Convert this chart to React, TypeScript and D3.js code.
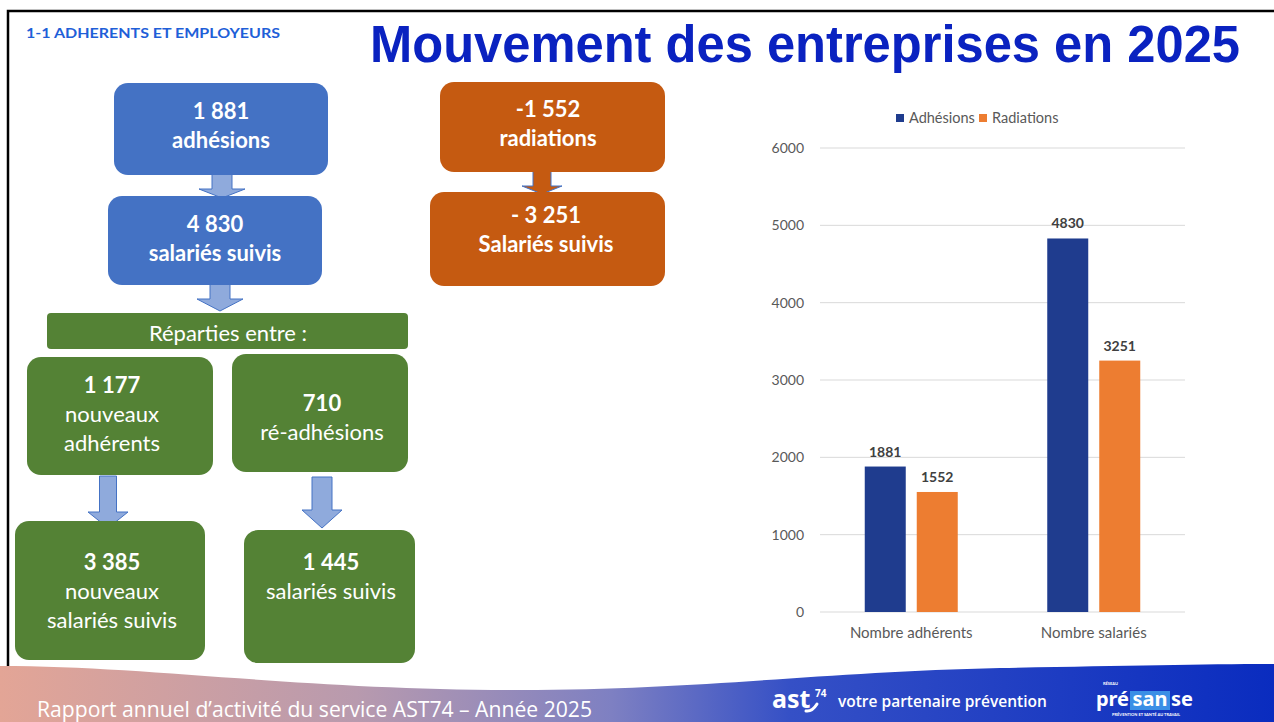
import * as d3 from 'd3'

// chart data
const categories = ['Nombre adhérents', 'Nombre salariés']
const seriesNames = ['Adhésions', 'Radiations']
const adhesions = [1881, 4830]
const radiations = [1552, 3251]
const yTicks = [0, 1000, 2000, 3000, 4000, 5000, 6000]

// flowchart texts
const blueTexts = [['1 881', 'adhésions'], ['4 830', 'salariés suivis']]
const orangeTexts = [['-1 552', 'radiations'], ['- 3 251', 'Salariés suivis']]
const splitLabel = 'Réparties entre :'
const greenTexts = [
  ['1 177', 'nouveaux', 'adhérents'],
  ['710', 'ré-adhésions'],
  ['3 385', 'nouveaux', 'salariés suivis'],
  ['1 445', 'salariés suivis'],
]

const BLUE = '#4472C4'
const ORANGE = '#C55A11'
const GREEN = '#548235'
const ARROW = '#8FAADC'
const FONT = 'Lato, "Open Sans", sans-serif'

const W = 1274
const H = 722

// box geometry (x, y, w, h) and text anchor
const blueBoxes = [
  { x: 114, y: 83, w: 214, h: 92, cx: 221, ty: 119 },
  { x: 108, y: 196, w: 214, h: 89, cx: 215, ty: 232 },
]
const orangeBoxes = [
  { x: 440, y: 82, w: 225, h: 90, cx: 548, ty: 117 },
  { x: 430, y: 192, w: 235, h: 94, cx: 546, ty: 223 },
]
const greenBoxes = [
  { x: 27, y: 357, w: 186, h: 118, cx: 112, ty: 393 },
  { x: 232, y: 354, w: 176, h: 118, cx: 322, ty: 411 },
  { x: 15, y: 521, w: 190, h: 139, cx: 112, ty: 570 },
  { x: 244, y: 530, w: 171, h: 133, cx: 331, ty: 570 },
]

const arrowPath = (cx: number, top: number, bottom: number, shaftW: number, headW: number, headH: number) => {
  const s = shaftW / 2
  const h = headW / 2
  const hy = bottom - headH
  return `M${cx - s},${top} L${cx + s},${top} L${cx + s},${hy} L${cx + h},${hy} L${cx},${bottom} L${cx - h},${hy} L${cx - s},${hy} Z`
}

const Box = ({ b, fill, lines, boldFirst, allBold }: any) => (
  <g>
    <rect x={b.x} y={b.y} width={b.w} height={b.h} rx={14} fill={fill} />
    {lines.map((t: string, i: number) => (
      <text
        key={i}
        x={b.cx}
        y={b.ty + i * 29}
        textAnchor="middle"
        fill="#fff"
        fontSize={22}
        fontWeight={allBold || (boldFirst && i === 0) ? 700 : 400}
        fontFamily={FONT}
      >
        {t}
      </text>
    ))}
  </g>
)

const BarChart = () => {
  const x0 = d3.scaleBand<string>().domain(categories).range([820, 1185])
  const x1 = d3.scaleBand<string>().domain(seriesNames).range([0, 93]).paddingInner(11 / 52)
  const y = d3.scaleLinear().domain([0, 6000]).range([612, 148])
  const colors = d3.scaleOrdinal<string>().domain(seriesNames).range(['#1F3C8E', '#ED7D31'])
  const values = [adhesions, radiations]

  return (
    <g fontFamily={FONT}>
      {yTicks.map((t) => (
        <g key={t}>
          <line x1={820} x2={1185} y1={y(t)} y2={y(t)} stroke="#D9D9D9" strokeWidth={1} />
          <text x={804} y={y(t) + 5} textAnchor="end" fontSize={14} fill="#595959">
            {t}
          </text>
        </g>
      ))}
      {categories.map((c, ci) => {
        const gx = x0(c)! + x0.bandwidth() / 2 - 46.5
        return (
          <g key={c}>
            {seriesNames.map((s, si) => {
              const v = values[si][ci]
              const bx = gx + x1(s)!
              return (
                <g key={s}>
                  <rect x={bx} y={y(v)} width={x1.bandwidth()} height={y(0) - y(v)} fill={colors(s)} />
                  <text
                    x={bx + x1.bandwidth() / 2}
                    y={y(v) - 10}
                    textAnchor="middle"
                    fontSize={14}
                    fontWeight={700}
                    fill="#404040"
                  >
                    {v}
                  </text>
                </g>
              )
            })}
            <text x={x0(c)! + x0.bandwidth() / 2} y={638} textAnchor="middle" fontSize={15} fill="#595959">
              {c}
            </text>
          </g>
        )
      })}
      <g>
        <rect x={896} y={114} width={8} height={8} fill={colors(seriesNames[0])} />
        <text x={909} y={123} fontSize={14.5} fill="#595959">
          {seriesNames[0]}
        </text>
        <rect x={979} y={114} width={8} height={8} fill={colors(seriesNames[1])} />
        <text x={992} y={123} fontSize={14.5} fill="#595959">
          {seriesNames[1]}
        </text>
      </g>
    </g>
  )
}

const Footer = () => (
  <g>
    <defs>
      <linearGradient id="footGrad" x1="0" x2="1" y1="0" y2="0">
        <stop offset="0" stopColor="#E3A596" />
        <stop offset="0.28" stopColor="#B89AAE" />
        <stop offset="0.48" stopColor="#7E80C2" />
        <stop offset="0.62" stopColor="#3550C6" />
        <stop offset="1" stopColor="#0A2CBF" />
      </linearGradient>
    </defs>
    <path
      d="M0,666 C150,666 300,690 520,690 C700,690 820,672 1000,668 C1120,666 1200,664 1274,664 L1274,722 L0,722 Z"
      fill="url(#footGrad)"
    />
    <text
      x={37}
      y={717}
      fill="#fff"
      fontSize={21}
      fontFamily='"Open Sans", sans-serif'
      textLength={555}
      lengthAdjust="spacingAndGlyphs"
    >
      Rapport annuel d’activité du service AST74 – Année 2025
    </text>
    <text x={772} y={708} fill="#fff" fontSize={25} fontWeight={700} fontFamily='"Noto Sans", sans-serif'>
      ast
    </text>
    <text x={815} y={697} fill="#fff" fontSize={10} fontWeight={700} fontFamily='"Noto Sans", sans-serif'>
      74
    </text>
    <path d="M806,711 Q812,712 817,704" fill="none" stroke="#fff" strokeWidth={3} strokeLinecap="round" />
    <text x={838} y={707} fill="#fff" fontSize={15.5} fontWeight={600} fontFamily='"Open Sans", sans-serif'>
      votre partenaire prévention
    </text>
    <text x={1103} y={685} fill="#fff" fontSize={4} fontWeight={700} fontFamily={FONT}>
      RÉSEAU
    </text>
    <rect x={1130} y={691} width={40} height={19} fill="#3A8FE6" />
    <g fill="#fff" fontSize={20} fontWeight={700} fontFamily='"Noto Sans", sans-serif'>
      <text x={1129} y={706} textAnchor="end">
        pré
      </text>
      <text x={1150} y={706} textAnchor="middle">
        san
      </text>
      <text x={1171} y={706}>
        se
      </text>
    </g>
    <text x={1112} y={716} fill="#fff" fontSize={4} fontWeight={700} fontFamily={FONT}>
      PRÉVENTION ET SANTÉ AU TRAVAIL
    </text>
  </g>
)

export default function App() {
  return (
    <svg width={W} height={H} style={{ position: 'absolute', left: 0, top: 0, background: '#fff' }}>
      <rect x={0} y={0} width={W} height={H} fill="#fff" />
      <rect x={8} y={11} width={W + 20} height={H} fill="none" stroke="#000" strokeWidth={2.5} />

      <text
        x={26}
        y={38}
        fill="#1F5FD8"
        fontSize={14}
        fontWeight={700}
        fontFamily={FONT}
        textLength={254}
        lengthAdjust="spacingAndGlyphs"
      >
        1-1 ADHERENTS ET EMPLOYEURS
      </text>
      <text
        x={370}
        y={62}
        fill="#0A22C0"
        fontSize={51}
        fontWeight={700}
        fontFamily='"Liberation Sans", Arial, sans-serif'
        textLength={870}
        lengthAdjust="spacingAndGlyphs"
      >
        Mouvement des entreprises en 2025
      </text>

      {/* arrows */}
      <path d={arrowPath(222, 174, 198, 20, 46, 9)} fill={ARROW} stroke={BLUE} strokeWidth={1} />
      <path d={arrowPath(220, 284, 311, 20, 46, 12)} fill={ARROW} stroke={BLUE} strokeWidth={1} />
      <path d={arrowPath(542, 171, 194, 18, 40, 8)} fill={ORANGE} stroke={BLUE} strokeWidth={1} />
      <path d={arrowPath(108, 476, 528, 17, 40, 16)} fill={ARROW} stroke={BLUE} strokeWidth={1} />
      <path d={arrowPath(322, 477, 528, 20, 40, 18)} fill={ARROW} stroke={BLUE} strokeWidth={1} />

      {blueBoxes.map((b, i) => (
        <Box key={i} b={b} fill={BLUE} lines={blueTexts[i]} allBold />
      ))}
      {orangeBoxes.map((b, i) => (
        <Box key={i} b={b} fill={ORANGE} lines={orangeTexts[i]} allBold />
      ))}

      <rect x={47} y={313} width={361} height={36} rx={4} fill={GREEN} />
      <text x={228} y={341} textAnchor="middle" fill="#fff" fontSize={22} fontFamily={FONT}>
        {splitLabel}
      </text>
      {greenBoxes.map((b, i) => (
        <Box key={i} b={b} fill={GREEN} lines={greenTexts[i]} boldFirst />
      ))}

      <BarChart />
      <Footer />
    </svg>
  )
}
